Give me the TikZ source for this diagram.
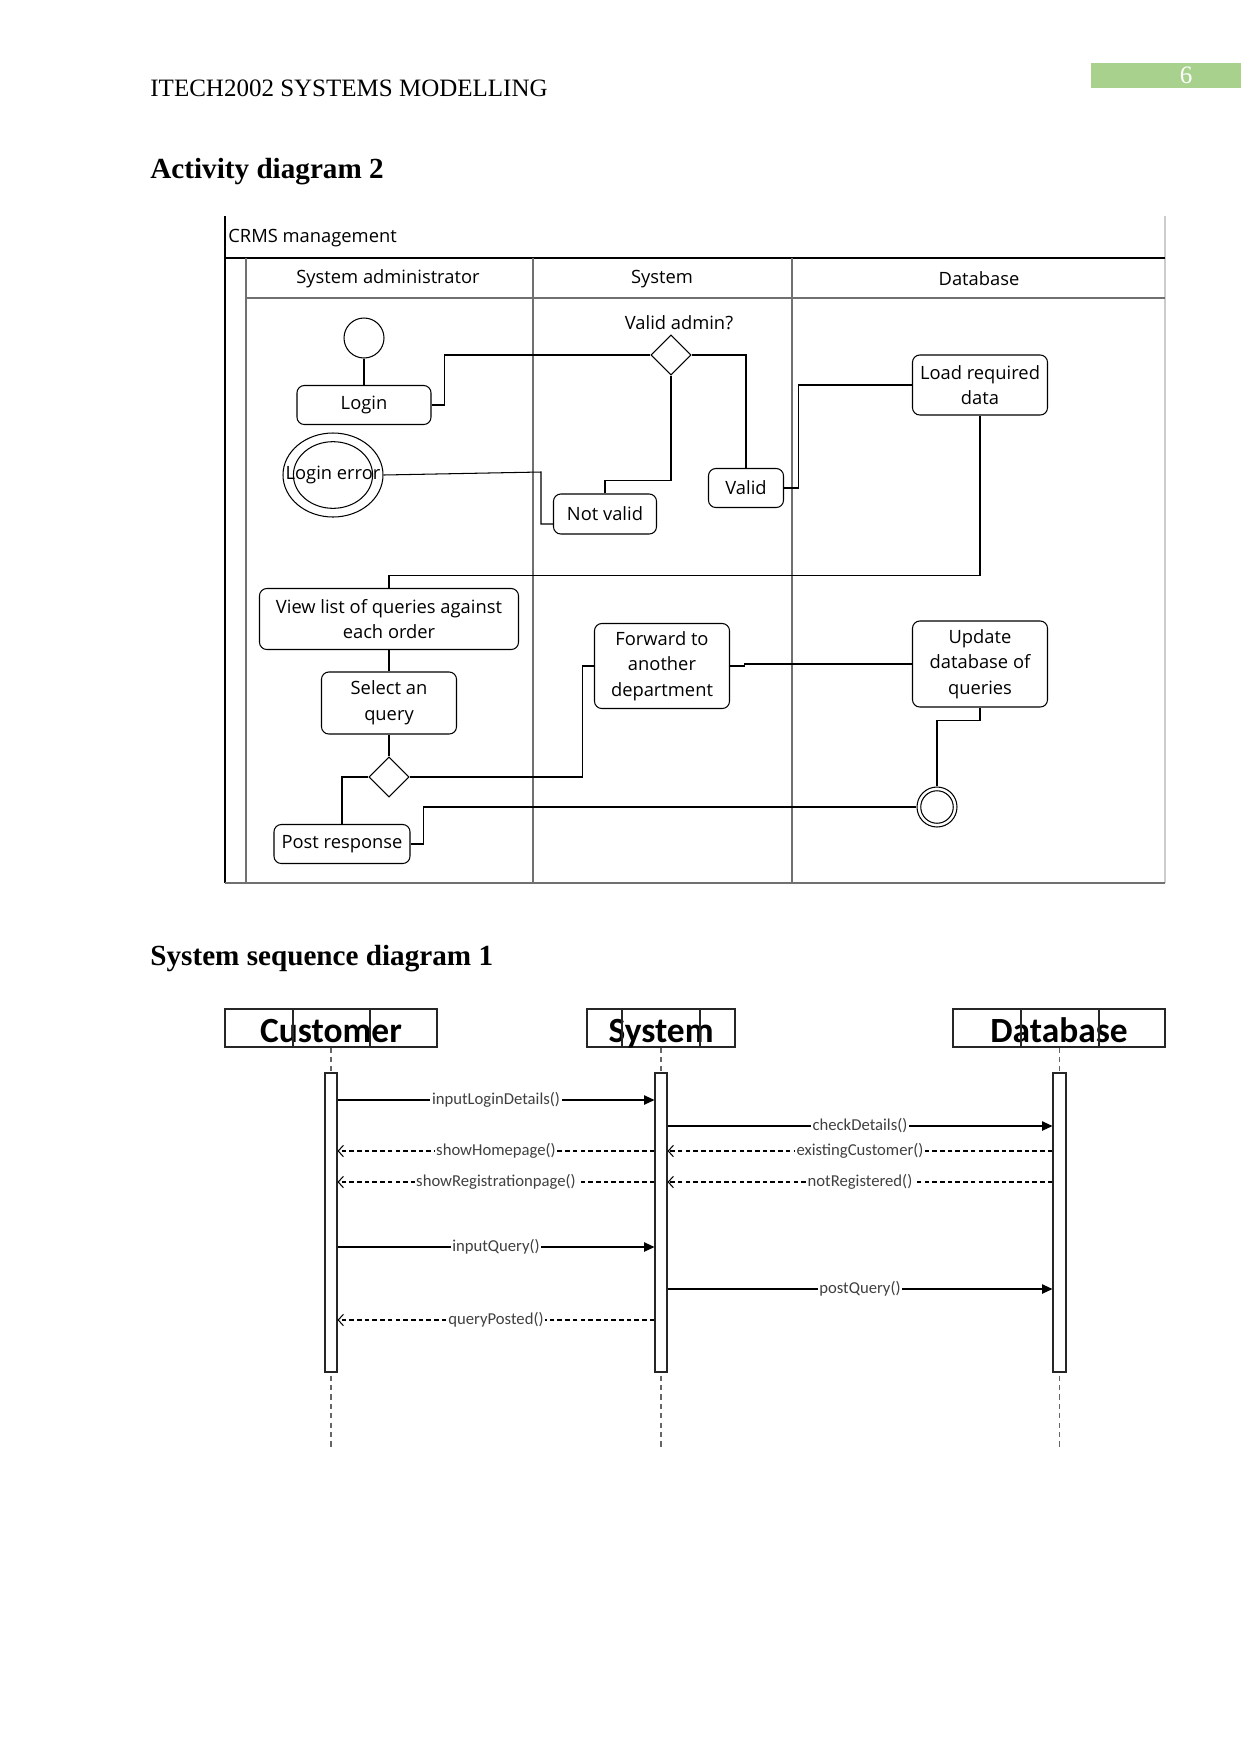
\documentclass[tikz,border=0pt]{standalone}
\usepackage{fontspec}
\setmainfont{Liberation Serif}
\newfontfamily\actfont{Open Sans}
\newfontfamily\seqfont{Carlito}
\usetikzlibrary{shapes.geometric,arrows.meta}
\definecolor{pagegreen}{HTML}{A9D18E}
\definecolor{lanegray}{HTML}{707070}
\begin{document}
\begin{tikzpicture}[x=0.48pt,y=-0.48pt,
  sz/.style 2 args={minimum width=#1*0.48pt,minimum height=#2*0.48pt},
  afont/.style={font=\actfont\fontsize{8.8}{12.3}\selectfont},
  actbox/.style={draw, rounded corners=3.5pt, inner sep=1pt, align=center, afont, line width=0.5pt},
  atext/.style={afont, inner sep=0},
  conn/.style={line width=0.5pt},
  lane/.style={draw=lanegray, line width=0.5pt},
  dec/.style={draw, diamond, inner sep=0, line width=0.5pt},
  hdr/.style={draw=black!85, line width=0.5pt, font=\seqfont\bfseries\fontsize{17}{20}\selectfont, inner sep=0, text height=13.5pt, text depth=0pt},
  bar/.style={draw=black!85, fill=white, line width=0.5pt, inner sep=0},
  life/.style={dash pattern=on 2.5pt off 2pt, line width=0.5pt, draw=black!60},
  call/.style={line width=0.55pt, -{Triangle[length=5pt,width=4.5pt]}},
  ret/.style={line width=0.5pt, dash pattern=on 2.2pt off 1.5pt, -{Straight Barb[length=2.5pt,width=5.5pt]}},
  lbl/.style={fill=white, inner sep=0.8pt, font=\seqfont\fontsize{8}{9}\selectfont, text=black!75}
]
\useasboundingbox (0,0) rectangle (1241,1754);

% page header
\node[fill=pagegreen, sz={150}{25}, inner sep=0] (pagebox) at (1166,75.5) {};
\node[text=white, font=\fontsize{12}{14}\selectfont, inner sep=0] (pnum) at (1186,75) {6};
\node[anchor=base west, font=\fontsize{12}{14}\selectfont, inner sep=0] (runhead) at (150,96) {ITECH2002 SYSTEMS MODELLING};
\node[anchor=base west, font=\bfseries\fontsize{14}{17}\selectfont, inner sep=0] (title1) at (150,178) {Activity diagram 2};
\node[anchor=base west, font=\bfseries\fontsize{14}{17}\selectfont, inner sep=0] (title2) at (150,965) {System sequence diagram 1};

% ---------------- activity frame ----------------
\draw[line width=0.6pt] (225,216) -- (225,883);
\draw[draw=black!20, line width=0.5pt] (1165,216) -- (1165,883);
\draw[line width=0.6pt] (225,258) -- (1165,258);
\draw[lane] (246,298) -- (1165,298);
\draw[lane] (225,883) -- (1165,883);
\draw[lane] (246,258) -- (246,883);
\draw[lane] (533,258) -- (533,883);
\draw[lane] (792,258) -- (792,883);
\node[atext, anchor=west] (crms) at (228,238) {CRMS management};
\node[atext] (lane1) at (388,279) {System administrator};
\node[atext] (lane2) at (662,279) {System};
\node[atext] (lane3) at (979,279) {Database};

% activity nodes
\node[draw, circle, sz={40}{40}, inner sep=0, line width=0.5pt] (init) at (364,338) {};
\node[actbox, sz={134}{39}] (login) at (364,405) {Login};
\node[draw, ellipse, sz={100}{84}, inner sep=0, line width=0.5pt] (lerr) at (333,475) {};
\draw[line width=0.5pt] (lerr.center) ellipse (19pt and 16pt);
\node[atext] (lerrtext) at (lerr.center) {Login error};
\node[dec, sz={40}{40}] (d1) at (671,355) {};
\node[atext] (vq) at (679,323) {Valid admin?};
\node[actbox, sz={103}{40}] (notvalid) at (605,514) {Not valid};
\node[actbox, sz={75}{39}] (valid) at (746,488) {Valid};
\node[actbox, sz={135}{60}] (load) at (980,385) {Load required\\data};
\node[actbox, sz={259}{61}] (view) at (389,619) {View list of queries against\\each order};
\node[actbox, sz={135}{62}] (select) at (389,703) {Select an\\query};
\node[dec, sz={40}{40}] (d2) at (389,777) {};
\node[actbox, sz={136}{39}] (post) at (342,844) {Post response};
\node[actbox, sz={135}{85}] (fwd) at (662,666) {Forward to\\another\\department};
\node[actbox, sz={135}{86}] (upd) at (980,664) {Update\\database of\\queries};
\node[draw, circle, sz={40}{40}, inner sep=0, line width=0.5pt] (fin) at (937,807) {};
\draw[line width=0.5pt] (fin.center) circle (7.8pt);

% activity connectors
\draw[conn] (init) -- (login);
\draw[conn] (login.east) -- ++(13,0) |- (d1.west);
\draw[conn] (d1.east) -| (valid.north);
\draw[conn] (d1.south) -- ++(0,105) -| (notvalid.north);
\draw[conn] ([yshift=-4.8pt]notvalid.west) -- ++(-12,0) -- ++(0,-52) -- (lerr.east);
\draw[conn] (valid.east) -- ++(14,0) |- (load.west);
\draw[conn] (load.south) -- ++(0,160) -| (view.north);
\draw[conn] (view) -- (select);
\draw[conn] (select) -- (d2);
\draw[conn] (d2.west) -| (post.north);
\draw[conn] (d2.east) -- ++(173,0) |- (fwd.west);
\draw[conn] (fwd.east) -- ++(14,0) |- (upd.west);
\draw[conn] (upd.south) -- ++(0,13) -| (fin.north);
\draw[conn] (post.east) -- ++(13,0) |- (fin.west);

% ---------------- sequence diagram ----------------
\node[hdr, sz={212}{38}] (cust) at (331,1028) {Customer};
\node[hdr, sz={148}{38}] (sys) at (661,1028) {System};
\node[hdr, sz={212}{38}] (db) at (1059,1028) {Database};
\draw[line width=0.5pt, black!85] (cust.north -| 293,0) -- (cust.south -| 293,0);
\draw[line width=0.5pt, black!85] (cust.north -| 370,0) -- (cust.south -| 370,0);
\draw[line width=0.5pt, black!85] (sys.north -| 622,0) -- (sys.south -| 622,0);
\draw[line width=0.5pt, black!85] (sys.north -| 700,0) -- (sys.south -| 700,0);
\draw[line width=0.5pt, black!85] (db.north -| 1021,0) -- (db.south -| 1021,0);
\draw[line width=0.5pt, black!85] (db.north -| 1099,0) -- (db.south -| 1099,0);

\coordinate (cend) at (331,1447);
\coordinate (send) at (661,1447);
\coordinate (dend) at (1059.5,1447);
\draw[life] (cust.south) -- (cend);
\draw[life] (sys.south) -- (send);
\draw[life] (db.south -| dend) -- (dend);

\node[bar, sz={12}{299}] (cbar) at (331,1222.5) {};
\node[bar, sz={12}{299}] (sbar) at (661,1222.5) {};
\node[bar, sz={13}{299}] (dbar) at (1059.5,1222.5) {};

\coordinate (m1) at (0,1100);
\coordinate (m2) at (0,1126);
\coordinate (m3) at (0,1151);
\coordinate (m4) at (0,1182);
\coordinate (m5) at (0,1247);
\coordinate (m6) at (0,1289);
\coordinate (m7) at (0,1320);

\draw[call] (cbar.east |- m1) -- (sbar.west |- m1) node[lbl, midway] {inputLoginDetails()};
\draw[call] (sbar.east |- m2) -- (dbar.west |- m2) node[lbl, midway] {checkDetails()};
\draw[ret] (dbar.west |- m3) -- (sbar.east |- m3) node[lbl, midway] {existingCustomer()};
\draw[ret] (sbar.west |- m3) -- (cbar.east |- m3) node[lbl, midway] {showHomepage()};
\draw[ret] (dbar.west |- m4) -- (sbar.east |- m4) node[lbl, midway] {notRegistered()};
\draw[ret] (sbar.west |- m4) -- (cbar.east |- m4) node[lbl, midway] {showRegistrationpage()};
\draw[call] (cbar.east |- m5) -- (sbar.west |- m5) node[lbl, midway] {inputQuery()};
\draw[call] (sbar.east |- m6) -- (dbar.west |- m6) node[lbl, midway] {postQuery()};
\draw[ret] (sbar.west |- m7) -- (cbar.east |- m7) node[lbl, midway] {queryPosted()};
\end{tikzpicture}
\end{document}
